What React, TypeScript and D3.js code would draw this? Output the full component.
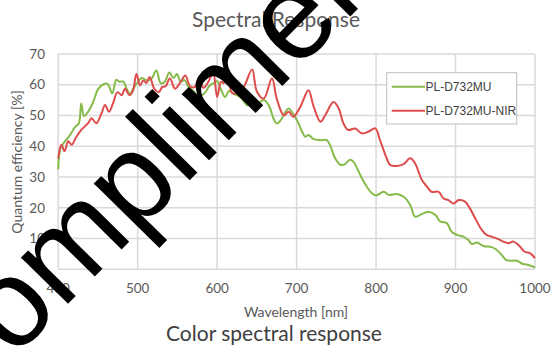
import * as d3 from 'd3';

// PL-D732MU (green)
const nmMU = [400, 403, 408, 415, 421, 426, 429, 432.5, 437.5, 444, 450, 456, 462, 468, 473, 477, 482, 486, 490, 494, 499, 505, 511, 517, 523.5, 529, 534, 540, 545, 549.5, 554, 559, 563.5, 568, 574, 580, 585, 590, 595, 600, 604, 610, 615, 621, 626, 631, 638, 644, 650, 659, 665, 671, 675, 680, 686, 690, 694, 698, 702.5, 707, 711, 715, 721, 730, 738, 742, 748.5, 755, 761, 767, 771.5, 776, 782, 788, 794.6, 800, 809.6, 816, 826, 834.7, 843, 849, 855.6, 866, 874.5, 881, 889, 895, 902, 910, 916, 920.5, 927, 935, 945.6, 952, 958, 964, 971, 977, 985, 992, 1000];
const qeMU = [32.5, 39.5, 41.4, 43.7, 46.2, 47.5, 53.9, 49.8, 51.2, 54.4, 58.5, 60, 60.3, 57.2, 61.6, 61, 61, 58.8, 57, 58.5, 60.5, 62.2, 61.5, 61.8, 64.6, 60.5, 61, 64, 62.2, 63.5, 61, 61.5, 59.5, 58.5, 57, 56.5, 57.5, 59.5, 60.5, 61.2, 59, 56, 58, 57, 56.5, 55.5, 53.3, 54.4, 53.9, 55, 53.3, 49, 47.4, 48.5, 51.2, 52.3, 51.2, 49.6, 47.4, 44.7, 43.1, 43.7, 42.4, 42, 42, 40.4, 36.1, 34, 34.2, 35.6, 35, 32.9, 29.7, 27, 24.8, 24, 25.2, 24.2, 24.5, 23.6, 20.9, 17.1, 17.7, 18.7, 17.7, 15.5, 15, 12.2, 11.2, 10.6, 9.5, 8.2, 8.7, 7.6, 7.2, 6.3, 4.7, 3.0, 2.8, 2.8, 1.7, 1.4, 0.6];

// PL-D732MU-NIR (red)
const nmNIR = [400, 404, 408, 412.6, 417, 422, 429, 437.7, 442, 448, 454.5, 459, 464, 469, 474.6, 480, 484, 490, 494, 498.5, 503, 507, 511, 515, 521, 526.6, 531, 535, 540.5, 547, 554, 560, 566, 572, 577, 583, 589, 595, 600, 605, 608, 612.5, 619, 627, 634, 644, 650, 658.6, 669, 675, 684, 690, 696, 704.6, 715, 721, 730, 736, 746.4, 753, 759, 765, 773.6, 782, 790, 799, 805, 811.7, 818, 826, 834.7, 843, 849, 857.7, 864, 870, 878.7, 885, 891, 897.5, 904, 912, 918, 927, 933, 939, 945.6, 954, 960, 966.5, 973, 981, 987, 994, 1000];
const qeNIR = [36, 40.5, 38.4, 41.6, 40.5, 42.7, 45.3, 47.5, 49.1, 47.5, 50.7, 53.4, 51.2, 54, 57.6, 56.6, 58.7, 56.6, 58, 63.5, 59.8, 61.4, 60.6, 62.5, 58.7, 57.6, 59.3, 59.5, 62, 58.7, 60.9, 63, 59.5, 59.3, 62, 59, 61, 64, 56, 61, 60.5, 64, 57.3, 57.5, 59.5, 65, 57.8, 55.5, 62, 55.5, 50, 51.2, 49.6, 52.8, 58.2, 53.3, 48, 50.1, 54.4, 52.3, 47.4, 45.3, 45.8, 44.2, 44.7, 45.8, 42, 37.2, 33.9, 33.6, 34.2, 36.1, 34.5, 29, 26.9, 25.2, 25.2, 23, 22.5, 21.4, 22.5, 22, 19.8, 15.5, 12.8, 11.2, 10.6, 9.8, 9, 8.5, 9, 7.4, 5.7, 5.2, 3.6];

const seriesNames = ['PL-D732MU', 'PL-D732MU-NIR'];
const seriesColors = ['#86bb4c', '#de4c4c'];
const xTicks = [400, 500, 600, 700, 800, 900, 1000];
const yTicks = [0, 10, 20, 30, 40, 50, 60, 70];

const W = 553;
const H = 347;
const font = 'Lato, "Open Sans", sans-serif';

const App = () => {
	const x = d3.scaleLinear().domain([400, 1000]).range([58.2, 535]);
	const y = d3.scaleLinear().domain([0, 70]).range([269.3, 54]);

	const line = d3
		.line<[number, number]>()
		.curve(d3.curveCatmullRom.alpha(0.5))
		.x((d) => x(d[0]))
		.y((d) => y(d[1]));

	const series = [
		d3.zip(nmMU, qeMU) as [number, number][],
		d3.zip(nmNIR, qeNIR) as [number, number][],
	];

	// watermark placement
	const wmSize = 125;
	const wmAngle = -45.5;

	return (
		<svg width={W} height={H} viewBox={`0 0 ${W} ${H}`} style={{ position: 'absolute', left: 0, top: 0, background: '#fff' }}>
			{/* grid */}
			{yTicks.map((t) => (
				<line key={'gy' + t} x1={x(400)} x2={x(1000)} y1={y(t)} y2={y(t)} stroke="#d9d9d9" strokeWidth={1.5} />
			))}
			{xTicks.map((t) => (
				<line key={'gx' + t} x1={x(t)} x2={x(t)} y1={y(0)} y2={y(70)} stroke="#d9d9d9" strokeWidth={1.5} />
			))}

			{/* tick labels */}
			{yTicks.map((t) => (
				<text key={'ty' + t} x={45} y={y(t)} dy="0.35em" textAnchor="end" fontFamily={font} fontSize={13.5} fill="#595959">
					{t}
				</text>
			))}
			{xTicks.map((t) => (
				<text key={'tx' + t} x={x(t)} y={288} dy="0.35em" textAnchor="middle" fontFamily={font} fontSize={13.5} fill="#595959">
					{t}
				</text>
			))}

			{/* series */}
			{series.map((s, i) => (
				<path key={'s' + i} d={line(s) || ''} fill="none" stroke={seriesColors[i]} strokeWidth={2} strokeLinejoin="round" />
			))}

			{/* legend */}
			<rect x={386.7} y={72.7} width={130} height={51.3} fill="#fff" stroke="#bfbfbf" strokeWidth={1} />
			{seriesNames.map((n, i) => (
				<g key={'lg' + i}>
					<line x1={391.7} x2={425} y1={86.7 + i * 24} y2={86.7 + i * 24} stroke={seriesColors[i]} strokeWidth={2} />
					<text x={425.5} y={86.7 + i * 24} dy="0.35em" fontFamily='"Liberation Sans", Arial, sans-serif' fontSize={12} fill="#404040">
						{n}
					</text>
				</g>
			))}

			{/* titles */}
			<text x={276} y={20} dy="0.35em" textAnchor="middle" fontFamily={font} fontSize={21} fill="#595959">
				Spectral Response
			</text>
			<text x={296} y={312} dy="0.35em" textAnchor="middle" fontFamily={font} fontSize={14} fill="#595959">
				Wavelength [nm]
			</text>
			<text transform="translate(17,162) rotate(-90)" dy="0.35em" textAnchor="middle" fontFamily={font} fontSize={14} fill="#595959">
				Quantum efficiency [%]
			</text>
			<text x={274} y={334} dy="0.35em" textAnchor="middle" fontFamily={font} fontSize={21} fill="#404040">
				Color spectral response
			</text>

			{/* watermark */}
			<text transform={`translate(-50,424) rotate(${wmAngle})`} fontFamily='"Liberation Sans", Arial, sans-serif' fontSize={wmSize} fill="#000">
				Complimentary
			</text>
		</svg>
	);
};

export default App;
